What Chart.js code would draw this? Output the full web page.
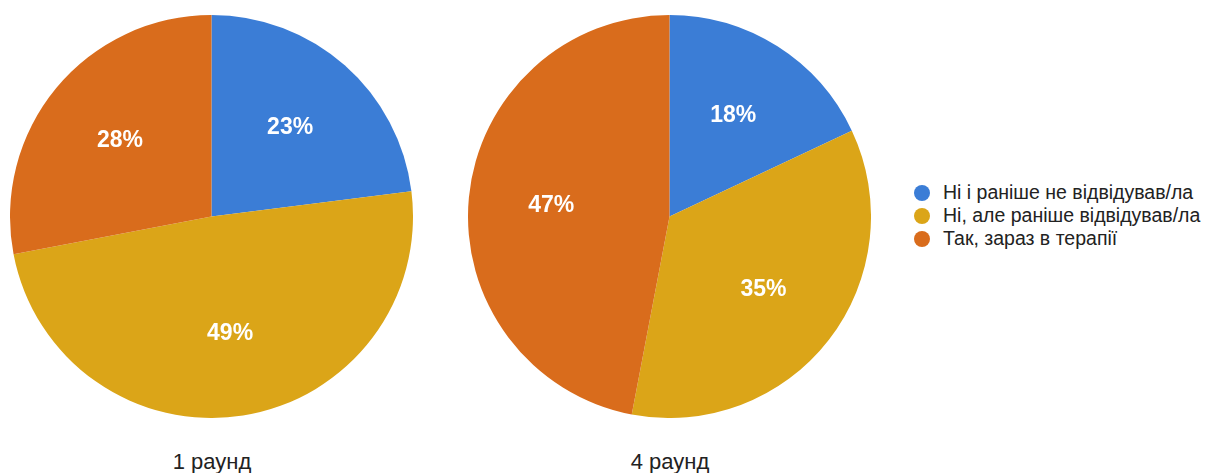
<!DOCTYPE html>
<html>
<head>
<meta charset="utf-8">
<script src="https://cdn.jsdelivr.net/npm/chart.js@4"></script>
<style>
  body { margin: 0; background: #fff; width: 1206px; height: 473px; position: relative; overflow: hidden;
         font-family: "Liberation Sans", Arial, sans-serif; }
  .pie { position: absolute; top: 15px; width: 403px; height: 403px; }
  .cap { position: absolute; top: 449px; width: 200px; text-align: center; font-size: 22px; color: #222; }
  #legend { position: absolute; left: 914px; top: 181px; font-size: 19.5px; color: #222; }
  #legend div { height: 23px; line-height: 23px; white-space: nowrap; }
  #legend span { display: inline-block; width: 16px; height: 16px; border-radius: 50%; vertical-align: -2px; margin-right: 13px; }
</style>
</head>
<body>
<div class="pie" style="left:10px"><canvas id="pie1"></canvas></div>
<div class="pie" style="left:468px"><canvas id="pie2"></canvas></div>
<div class="cap" id="cap1" style="left:112px"></div>
<div class="cap" id="cap2" style="left:570px"></div>
<div id="legend"></div>
<script>
const categories = ['Ні і раніше не відвідував/ла', 'Ні, але раніше відвідував/ла', 'Так, зараз в терапії'];
const round1 = [23, 49, 28];
const round4 = [18, 35, 47];
const rounds = ['1 раунд', '4 раунд'];
const colors = ['#3b7dd6', '#dba518', '#d96c1c'];

// percent labels inside the slices
const pctLabels = {
  id: 'pctLabels',
  afterDatasetsDraw(chart) {
    const ctx = chart.ctx;
    const ds = chart.data.datasets[0];
    ctx.save();
    ctx.fillStyle = '#fff';
    ctx.font = 'bold 23px "Liberation Sans", Arial, sans-serif';
    ctx.textAlign = 'center';
    ctx.textBaseline = 'middle';
    chart.getDatasetMeta(0).data.forEach((arc, i) => {
      const mid = (arc.startAngle + arc.endAngle) / 2;
      const r = arc.outerRadius * 0.59;
      ctx.fillText(ds.data[i] + '%', arc.x + Math.cos(mid) * r, arc.y + Math.sin(mid) * r);
    });
    ctx.restore();
  }
};

function makePie(id, values) {
  new Chart(document.getElementById(id), {
    type: 'pie',
    data: {
      labels: categories,
      datasets: [{ data: values, backgroundColor: colors, borderWidth: 0 }]
    },
    options: {
      responsive: true,
      maintainAspectRatio: false,
      animation: false,
      layout: { padding: 0 },
      plugins: { legend: { display: false }, tooltip: { enabled: false } }
    },
    plugins: [pctLabels]
  });
}

makePie('pie1', round1);
makePie('pie2', round4);
document.getElementById('cap1').textContent = rounds[0];
document.getElementById('cap2').textContent = rounds[1];

const legend = document.getElementById('legend');
categories.forEach((c, i) => {
  const row = document.createElement('div');
  row.innerHTML = '<span style="background:' + colors[i] + '"></span>' + c;
  legend.appendChild(row);
});
</script>
</body>
</html>
